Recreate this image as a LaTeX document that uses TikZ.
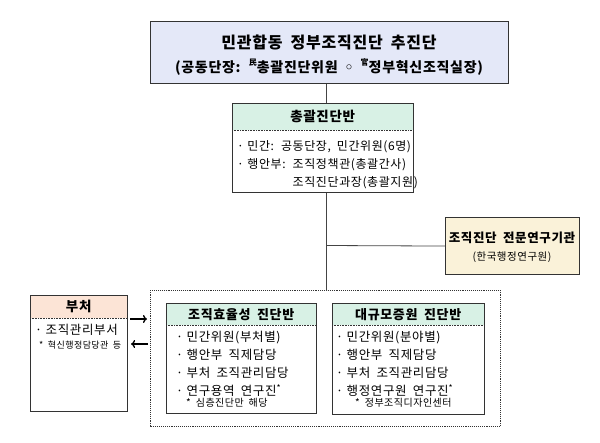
\documentclass[tikz,border=0pt]{standalone}
\usepackage{fontspec}
\setmainfont{Noto Sans CJK KR}[LetterSpace=5, WordSpace=1.8]
\newfontfamily\symfont{DejaVu Sans}
\usetikzlibrary{arrows.meta}
\definecolor{topfill}{HTML}{E4E8F8}
\definecolor{mint}{HTML}{D8F1E5}
\definecolor{peach}{HTML}{FCE4D6}
\definecolor{cream}{HTML}{FAF2D9}
\definecolor{edgec}{HTML}{333333}
\definecolor{wirec}{HTML}{444444}
\newcommand\bul{·\hspace{3.5pt}}

\begin{document}
\begin{tikzpicture}[x=1pt, y=-1pt,
    box/.style={draw=edgec, line width=1.1pt, anchor=north west, inner sep=0pt},
    head/.style={fill=mint, anchor=north west, inner sep=0pt, font=\bfseries\fontsize{13}{15}\selectfont},
    list/.style={anchor=north west, inner sep=0pt, align=left, font=\fontsize{12.5}{18}\selectfont},
    note/.style={anchor=north west, inner sep=0pt, font=\fontsize{10}{11}\selectfont},
    sep/.style={draw=edgec, densely dotted, line width=0.6pt},
    wire/.style={draw=wirec, line width=0.8pt},
    arr/.style={-{To[length=4pt,width=8pt]}, line width=1.3pt, shorten <=2pt, shorten >=3pt}]
\useasboundingbox (0,0) rectangle (600,442);

\node[box, fill=topfill, minimum width=358, minimum height=62] (top) at (150,21) {};
\node[font=\bfseries\fontsize{16}{20}\selectfont] (title) at (329,42) {민관합동 정부조직진단 추진단};
\node[font=\bfseries\fontsize{14}{18}\selectfont] (lead) at (329,67) {(공동단장: \raisebox{.45em}{\fontsize{8}{8}\selectfont 民}총괄진단위원 {\symfont ◦} \raisebox{.45em}{\fontsize{8}{8}\selectfont 官}정부혁신조직실장)};

\node[head, minimum width=181, minimum height=27, font=\bfseries\fontsize{13.5}{15}\selectfont] (chongh) at (232,103) {총괄진단반};
\node[box, minimum width=181, minimum height=89] (chong) at (232,103) {};
\draw[sep] (chongh.south west) -- (chongh.south east);
\node[list, font=\fontsize{12}{18}\selectfont] (chongl) at (237,140.5) {\bul 민간: 공동단장, 민간위원(6명)\\\bul 행안부: 조직정책관(총괄간사)\\\phantom{\bul 행안부: }조직진단과장(총괄지원)};

\node[box, fill=cream, minimum width=134, minimum height=57] (inst) at (445,217) {};
\node[font=\bfseries\fontsize{12.5}{15}\selectfont] (instn) at (512,238) {조직진단 전문연구기관};
\node[font=\fontsize{10.5}{13}\selectfont] (insts) at (512,257) {(한국행정연구원)};

\node[box, densely dotted, line width=0.8pt, minimum width=350, minimum height=136] (grp) at (150,290) {};

\node[head, minimum width=150, minimum height=22] (effh) at (166,303) {조직효율성 진단반};
\node[box, minimum width=150, minimum height=110] (eff) at (166,303) {};
\draw[sep] (effh.south west) -- (effh.south east);
\node[list] (effl) at (176,331) {\bul 민간위원(부처별)\\\bul 행안부 직제담당\\\bul 부처 조직관리담당\\\bul 연구용역 연구진\textsuperscript{*}};
\node[note] (effn) at (186,398) {* 심층진단만 해당};

\node[head, minimum width=152, minimum height=22] (bigh) at (332,303) {대규모증원 진단반};
\node[box, minimum width=152, minimum height=111] (big) at (332,303) {};
\draw[sep] (bigh.south west) -- (bigh.south east);
\node[list] (bigl) at (336,331) {\bul 민간위원(분야별)\\\bul 행안부 직제담당\\\bul 부처 조직관리담당\\\bul 행정연구원 연구진\textsuperscript{*}};
\node[note] (bign) at (355,398) {* 정부조직디자인센터};

\node[head, fill=peach, minimum width=97, minimum height=23, font=\bfseries\fontsize{13.5}{15}\selectfont] (buch) at (30,295) {부처};
\node[box, minimum width=97, minimum height=116] (bu) at (30,295) {};
\draw[sep] (buch.south west) -- (buch.south east);
\node[list] (bul) at (35,324) {\bul 조직관리부서};
\node[note, font=\fontsize{9}{10}\selectfont] (bun) at (39,341) {* 혁신행정담당관 등};

\coordinate (spine) at (326,0);
\coordinate (jn) at (326,245.5);
\coordinate (go) at (0,319);
\coordinate (back) at (0,344);
\draw[wire] (top.south -| spine) -- (chong.north -| spine);
\draw[wire] (chong.south -| spine) -- (grp.north -| spine);
\draw[wire] (jn) -- (inst.west);
\draw[arr] (bu.east |- go) -- (grp.west |- go);
\draw[arr] (grp.west |- back) -- (bu.east |- back);
\end{tikzpicture}
\end{document}
